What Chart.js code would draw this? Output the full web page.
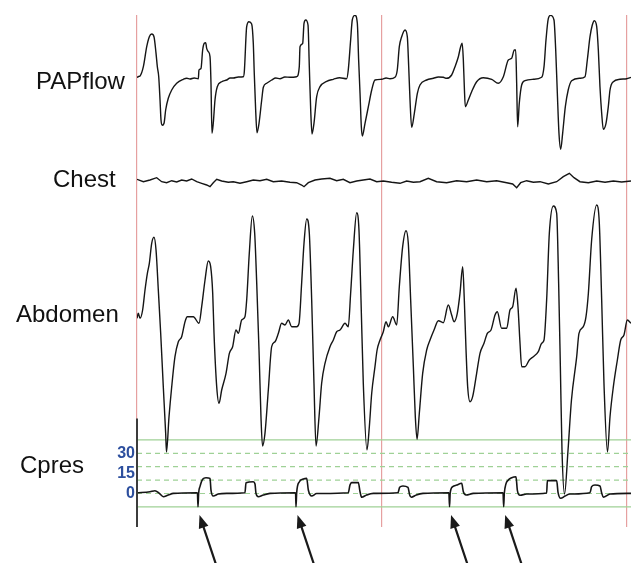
<!DOCTYPE html>
<html>
<head>
<meta charset="utf-8">
<title>PAP titration traces</title>
<script src="https://cdn.jsdelivr.net/npm/chart.js@4.4.0/dist/chart.umd.min.js"></script>
<style>
  html, body { margin: 0; padding: 0; background: #ffffff; }
  #wrap { width: 631px; height: 563px; }
</style>
</head>
<body>
<div id="wrap"><canvas id="traceChart" width="631" height="563"></canvas></div>
<script>
// Time in seconds (0 = first epoch marker), value in each channel's own units
const papflowTrace = [
    [0, 1], [0.2, 2], [0.37, 2.5], [0.78, 11.8], [1.19, 31.8], [1.51, 41.8], [1.8, 44.5], [2.08, 41.8],
    [2.33, 25.2], [2.49, 11.8], [2.66, 1.8], [2.82, -21.5], [2.94, -41.5], [3.1, -46.8], [3.31, -44.8],
    [3.51, -31.5], [3.83, -19.8], [4.25, -11.5], [4.86, -4.8], [5.67, -0.8], [6.1, 0.3], [6.49, -0.5],
    [7.0, 0.5], [7.51, -0.2], [7.59, 8.5], [7.84, 10.2], [8.04, 28.5], [8.24, 35.2], [8.41, 35.8],
    [8.53, 30.2], [8.73, 26.8], [8.94, 21.8], [9.06, -4.8], [9.18, -54.8], [9.34, -44.8], [9.55, -21.5],
    [9.83, -8.2], [10.37, -3.2], [10.98, -1.5], [11.4, 0.5], [11.79, 0.5], [12.4, 1.5], [13.02, 1.8],
    [13.14, 6.8], [13.43, 51.8], [13.71, 56.8], [14.04, 54.5], [14.24, 35.2], [14.36, 5.2], [14.53, -31.5],
    [14.69, -54.2], [14.94, -44.8], [15.27, -21.5], [15.47, -8.8], [15.88, -4.8], [16.49, -1.5], [17.0, 0.5],
    [17.51, -0.2], [18.1, 1.5], [18.73, 1.2], [19.55, 1.8], [19.87, 11.8], [19.96, 31.8], [20.29, 35.2],
    [20.45, 55.2], [20.66, 58.5], [20.94, 53.5], [21.1, 11.8], [21.27, -31.5], [21.43, -55.5], [21.67, -44.8],
    [22.0, -18.2], [22.41, -8.2], [23.23, -2.8], [24.04, -0.8], [24.8, 0.8], [25.67, -0.2], [25.87, 8.5],
    [26.16, 38.5], [26.36, 58.5], [26.69, 63.2], [26.98, 55.2], [27.14, 18.5], [27.31, -14.8], [27.47, -48.2],
    [27.59, -57.5], [27.92, -44.8], [28.33, -28.2], [28.74, -11.5], [29.14, -1.5], [29.96, -0.8], [30.5, 0.5],
    [30.98, -0.2], [31.59, 1.2], [31.87, 8.5], [32.12, 31.8], [32.41, 41.8], [32.82, 48.5], [33.1, 41.8],
    [33.27, 11.8], [33.43, -21.5], [33.63, -48.8], [33.96, -34.8], [34.33, -14.8], [34.65, -6.5], [35.47, -1.5],
    [36.29, 0.2], [36.9, 1.5], [37.51, 1.2], [37.92, 0.2], [38.53, 3.5], [38.94, 11.8], [39.35, 21.8],
    [39.63, 31.8], [39.82, 35.2], [39.96, 18.5], [40.08, -8.2], [40.2, -28.2], [40.57, -21.5], [40.98, -13.2],
    [41.59, -3.2], [42.4, 0.8], [43.43, -0.8], [44.24, -4.8], [44.86, 1.8], [45.47, 18.5], [45.88, 20.2],
    [46.2, 28.5], [46.37, 28.5], [46.49, -4.8], [46.61, -48.2], [46.81, -24.8], [47.1, -6.5], [47.51, -2.2],
    [48.53, -0.8], [49.55, 1.2], [49.84, 11.8], [50.08, 38.5], [50.37, 60.2], [50.65, 63.2], [51.06, 58.5],
    [51.27, 28.5], [51.47, -14.8], [51.67, -54.8], [51.88, -70.8], [52.12, -54.8], [52.45, -28.2], [52.8, -11.5],
    [53.22, -2.2], [54.24, 0.2], [54.86, 1.8], [55.14, 18.5], [55.47, 41.8], [55.75, 53.5], [56.0, 57.8],
    [56.29, 51.8], [56.49, 28.5], [56.69, -8.2], [56.9, -34.8], [57.1, -50.8], [57.43, -44.8], [57.71, -28.2],
    [57.92, -11.5], [58.33, -3.2], [59.14, -0.8], [59.96, -0.2], [60.49, 1.2]
];

const chestTrace = [
    [0, 1.7], [0.78, -0.7], [1.59, 1], [2.41, 3.3], [3.02, -0.7], [3.63, -1.7], [4.25, 0.3], [4.86, -1],
    [5.47, 1], [6.08, 0], [6.69, 2], [7.31, -0.7], [7.92, -2.3], [8.53, -4], [8.94, -5.7], [9.34, -1.7],
    [9.76, 1.7], [10.37, 0], [11.18, -1.3], [11.79, -0.7], [12.61, -2.3], [13.43, -0.7], [14.24, 1],
    [15.06, 0.3], [15.88, 1.7], [16.69, -0.7], [17.71, 0], [18.73, -1.3], [19.55, -1.7], [20.16, -4],
    [20.45, -5.7], [20.98, -1.7], [21.8, 1], [22.61, 2], [23.63, 2.7], [24.45, 0.3], [25.26, 1.7],
    [26.08, -1.7], [26.9, 0], [27.71, 1], [28.53, 2], [29.35, -0.7], [30.16, 0], [31.18, -1.3], [32.2, -2.3],
    [33.02, 0], [33.84, -1.3], [34.65, -0.7], [35.67, 2.7], [36.69, -0.7], [37.92, -1.7], [39.14, 0.3],
    [40.37, -0.7], [41.59, 1], [42.82, -0.7], [44.04, 0.3], [45.27, -1.7], [46.0, -3], [46.49, -6.7],
    [46.98, -1.7], [47.71, 0.3], [48.53, -1.3], [49.35, -0.7], [50.37, -3], [51.39, -0.7], [52.2, 4.3],
    [52.94, 7.7], [53.51, 3.3], [54.24, -0.7], [55.27, -1.7], [56.29, 0], [57.31, -1.3], [58.33, 0],
    [59.35, -1], [60.49, 0]
];

const abdomenTrace = [
    [0, 1.7], [0.16, 6.7], [0.37, 1.7], [0.69, 10], [0.98, 30], [1.27, 46.7], [1.51, 56.7], [1.8, 76.7],
    [2.08, 82.7], [2.33, 70], [2.61, 30], [2.9, -13.3], [3.22, -66.7], [3.51, -113.3], [3.61, -132],
    [3.92, -96.7], [4.25, -66.7], [4.65, -36.7], [5.06, -21.7], [5.47, -16.7], [5.88, -1.7], [6.16, 3.3],
    [6.9, 3.3], [7.59, -3.3], [7.92, 13.3], [8.33, 40], [8.73, 59], [9.02, 53.3], [9.27, 26.7], [9.43, -13.3],
    [9.76, -66.7], [10.04, -83.3], [10.37, -70], [10.9, -53.3], [11.31, -33.3], [11.71, -26.7], [12.12, -10],
    [12.41, -13.3], [12.82, 0], [13.22, 3.3], [13.43, 20], [13.75, 66.7], [14.12, 104], [14.41, 86.7],
    [14.66, 36.7], [14.94, -30], [15.18, -96.7], [15.37, -126], [15.67, -113.3], [16.08, -70], [16.49, -26.7],
    [16.9, -21.7], [17.31, -13.3], [17.71, -3.3], [18.12, -5], [18.53, 0], [18.94, -6.7], [19.55, -6.7],
    [19.84, -3.3], [20.16, 36.7], [20.45, 76.7], [20.78, 101], [21.1, 86.7], [21.39, 20], [21.67, -63.3],
    [21.92, -126], [22.29, -96.7], [22.61, -63.3], [23.02, -43.3], [23.63, -26.7], [24.04, -20], [24.45, -11.7],
    [24.86, -10], [25.47, -3.3], [25.87, -6.7], [26.16, 26.7], [26.49, 70], [26.9, 107.3], [27.18, 90],
    [27.43, 20], [27.71, -63.3], [28.16, -130], [28.45, -106.7], [28.74, -73.3], [29.14, -46.7], [29.4, -30],
    [29.76, -20], [30.16, -11.7], [30.49, -1.7], [30.78, -6.7], [31.31, 3.3], [31.8, -5], [32.12, 33.3],
    [32.53, 73.3], [32.94, 89.3], [33.22, 76.7], [33.51, 20], [33.84, -46.7], [34.08, -96.7], [34.29, -119.3],
    [34.57, -93.3], [34.98, -53.3], [35.47, -30], [35.88, -20], [36.37, -10], [36.9, -0.7], [37.51, -2.7],
    [38.12, 15], [38.53, 5], [38.82, -1.7], [39.22, 6.7], [39.55, 26.7], [39.88, 53.3], [40.08, 20],
    [40.29, -30], [40.49, -66.7], [40.78, -81.7], [41.1, -76.7], [41.59, -53.3], [42.0, -33.3], [42.49, -23.3],
    [42.9, -13.3], [43.35, -10], [43.84, 5], [44.12, 8.3], [44.65, -8.3], [45.27, -8.3], [45.67, 10],
    [46.0, 13.3], [46.41, 31.7], [46.65, 13.3], [46.9, -23.3], [47.1, -46.7], [47.51, -46.7], [48.04, -40],
    [48.53, -36.7], [49.14, -31.7], [49.55, -23.3], [49.84, -20], [50.16, 20], [50.49, 86.7], [50.98, 114],
    [51.39, 106.7], [51.63, 36.7], [51.84, -46.7], [52.04, -130], [52.35, -174], [52.78, -130], [53.2, -80],
    [53.84, -36.7], [54.12, -13.3], [54.65, -6.7], [54.98, 3.3], [55.27, 26.7], [55.67, 80], [56.29, 115],
    [56.61, 96.7], [56.9, 20], [57.18, -63.3], [57.61, -132], [57.92, -96.7], [58.33, -66.7], [58.82, -40],
    [59.23, -20], [59.63, -15], [60.04, 0], [60.49, -3.3]
];

// Cpres in cmH2O
const cpresTrace = [
    [0, 0.6], [1.59, 1.3], [2.2, 2.1], [2.73, 0.1], [3.22, -2.4], [3.83, -1.1], [4.45, 0.1], [7.31, 0.6],
    [7.4, 0.4], [7.47, -9.9], [7.55, 0.4], [7.71, 5.1], [8.04, 10.6], [8.45, 11.8], [8.94, 11.3], [9.06, 2.6],
    [9.34, -1.9], [9.96, -0.4], [10.98, 0.1], [13.22, 0.6], [13.35, 8.1], [14.24, 8.8], [14.45, 7.1],
    [14.57, 0.1], [14.86, -2.4], [15.47, -1.1], [16.29, 0.1], [19.35, 0.6], [19.42, 0.4], [19.47, -9.9],
    [19.55, 0.4], [19.87, 8.6], [20.37, 10.8], [20.78, 11.3], [20.98, 2.6], [21.39, -1.9], [22.0, 0],
    [25.87, 0.6], [26.08, 6.3], [26.28, 8.1], [27.1, 8.1], [27.31, 1.3], [27.51, -2.8], [28.12, -1.1],
    [28.94, 0.1], [31.96, 0.6], [32.16, 4.6], [32.57, 5.6], [33.18, 4.6], [33.39, -1.1], [33.59, -2.8],
    [34.2, -1.1], [35.02, 0.1], [38.19, 0.6], [38.27, -9.9], [38.35, 0.4], [38.66, 5.1], [39.14, 6.3],
    [39.76, 7.6], [39.96, 1.3], [40.29, -1.1], [41.18, 0.1], [44.82, 0.6], [44.9, -9.9], [44.98, 0.4],
    [45.47, 10.1], [45.88, 11.8], [46.41, 12.5], [46.57, 2.6], [46.9, -1.3], [47.71, -0.4], [50.16, 0.4],
    [50.25, 9.6], [51.39, 9.6], [51.55, 1.1], [51.88, -3.6], [52.41, -1.9], [53.02, -0.4], [55.47, 0.6],
    [55.67, 5.1], [56.08, 6.3], [56.69, 5.6], [56.9, 0.4], [57.1, -2.8], [57.92, -0.4], [60.49, 0.1]
];

const channelNames = ['PAPflow', 'Chest', 'Abdomen', 'Cpres'];
const epochMarks = [0, 30, 60];            // red epoch lines (s)
const cpresTicks = [0, 15, 30];            // labelled pressures
const cpresGridLevels = [40, 30, 20, 10, 0, -10];
const arrowTimes = [7.47, 19.47, 38.27, 44.9];   // flagged pressure drops
const timeEnd = 60.49;

// layout (pixels)
const PLOT_TOP = 15;
const PLOT_BOTTOM = 527;
const CANVAS_H = 563;
const LEFT_MARGIN = 137;

// each channel gets its own axis: zero line position + gain in px per unit
function axisRange(zeroPx, pxPerUnit) {
    return {
        min: -(PLOT_BOTTOM - zeroPx) / pxPerUnit,
        max: (zeroPx - PLOT_TOP) / pxPerUnit
    };
}

function toPoints(trace) {
    return trace.map(p => ({ x: p[0], y: p[1] }));
}

const labelSpots = [[36, 89], [53, 187], [16, 322], [20, 473]];

const traceDecor = {
    id: 'traceDecor',
    afterDraw(chart) {
        const { ctx, chartArea, scales } = chart;
        ctx.save();

        // channel names in the left margin
        ctx.fillStyle = '#111111';
        ctx.font = '24px "Liberation Sans", Arial, sans-serif';
        ctx.textBaseline = 'alphabetic';
        channelNames.forEach((name, i) => ctx.fillText(name, labelSpots[i][0], labelSpots[i][1]));

        // Cpres axis line, drawn over the first epoch line
        const x0 = scales.x.getPixelForValue(0);
        ctx.strokeStyle = '#3c3c3c';
        ctx.lineWidth = 2;
        ctx.beginPath();
        ctx.moveTo(x0, scales.yCpres.getPixelForValue(56));
        ctx.lineTo(x0, chartArea.bottom);
        ctx.stroke();

        // arrows under the pressure drops
        ctx.strokeStyle = '#1a1a1a';
        ctx.fillStyle = '#1a1a1a';
        ctx.lineWidth = 2.2;
        arrowTimes.forEach(t => {
            const tipX = scales.x.getPixelForValue(t) + 1.5;
            const tipY = chartArea.bottom - 12;
            const dx = 15, dy = 45;
            const len = Math.hypot(dx, dy);
            const ux = dx / len, uy = dy / len;
            const head = 13, half = 5;
            ctx.beginPath();
            ctx.moveTo(tipX + ux * head * 0.8, tipY + uy * head * 0.8);
            ctx.lineTo(tipX + dx * 1.15, tipY + dy * 1.15);
            ctx.stroke();
            ctx.beginPath();
            ctx.moveTo(tipX, tipY);
            ctx.lineTo(tipX + ux * head - uy * half, tipY + uy * head + ux * half);
            ctx.lineTo(tipX + ux * head + uy * half, tipY + uy * head - ux * half);
            ctx.closePath();
            ctx.fill();
        });

        ctx.restore();
    }
};

document.addEventListener('DOMContentLoaded', () => {
    const ctx = document.getElementById('traceChart').getContext('2d');

    const traceStyle = {
        borderColor: '#151515',
        borderWidth: 1.4,
        pointRadius: 0,
        cubicInterpolationMode: 'monotone',
        order: 0
    };

    const gridSets = cpresGridLevels.map((lvl, i) => ({
        data: [{ x: 0, y: lvl }, { x: timeEnd, y: lvl }],
        yAxisID: 'yCpres',
        borderColor: '#9fd196',
        borderWidth: 1.2,
        borderDash: (i === 0 || i === cpresGridLevels.length - 1) ? [] : [5, 4],
        pointRadius: 0,
        order: 5
    }));

    new Chart(ctx, {
        type: 'line',
        data: {
            datasets: [
                ...gridSets,
                { ...traceStyle, label: 'PAPflow', data: toPoints(papflowTrace), yAxisID: 'yPap' },
                { ...traceStyle, label: 'Chest', data: toPoints(chestTrace), yAxisID: 'yChest', cubicInterpolationMode: 'default', tension: 0 },
                { ...traceStyle, label: 'Abdomen', data: toPoints(abdomenTrace), yAxisID: 'yAbd' },
                { ...traceStyle, label: 'Cpres', data: toPoints(cpresTrace), yAxisID: 'yCpres', borderWidth: 1.6 }
            ]
        },
        options: {
            responsive: false,
            animation: false,
            layout: { padding: { top: PLOT_TOP, bottom: CANVAS_H - PLOT_BOTTOM, left: 0, right: 0 } },
            plugins: {
                legend: { display: false },
                tooltip: { enabled: false }
            },
            scales: {
                x: {
                    type: 'linear',
                    min: 0,
                    max: timeEnd,
                    border: { display: false },
                    ticks: { display: false },
                    grid: { color: '#e6a0a0', lineWidth: 1.2, drawTicks: false },
                    afterBuildTicks: s => { s.ticks = epochMarks.map(v => ({ value: v })); },
                    afterFit: s => { s.height = 0; }
                },
                yPap: { position: 'left', display: false, ...axisRange(78.5, 1) },
                yChest: { position: 'left', display: false, ...axisRange(181, 1) },
                yAbd: { position: 'left', display: false, ...axisRange(320, 1) },
                yCpres: {
                    position: 'left',
                    ...axisRange(493.5, 1.34),
                    border: { display: false },
                    grid: { display: false, drawTicks: false },
                    ticks: {
                        color: '#2d4f9e',
                        padding: 2,
                        font: { family: '"Liberation Sans", Arial, sans-serif', size: 16, weight: 'bold' }
                    },
                    afterBuildTicks: s => { s.ticks = cpresTicks.map(v => ({ value: v })); },
                    afterFit: s => { s.width = LEFT_MARGIN; }
                }
            }
        },
        plugins: [traceDecor]
    });
});
</script>
</body>
</html>
